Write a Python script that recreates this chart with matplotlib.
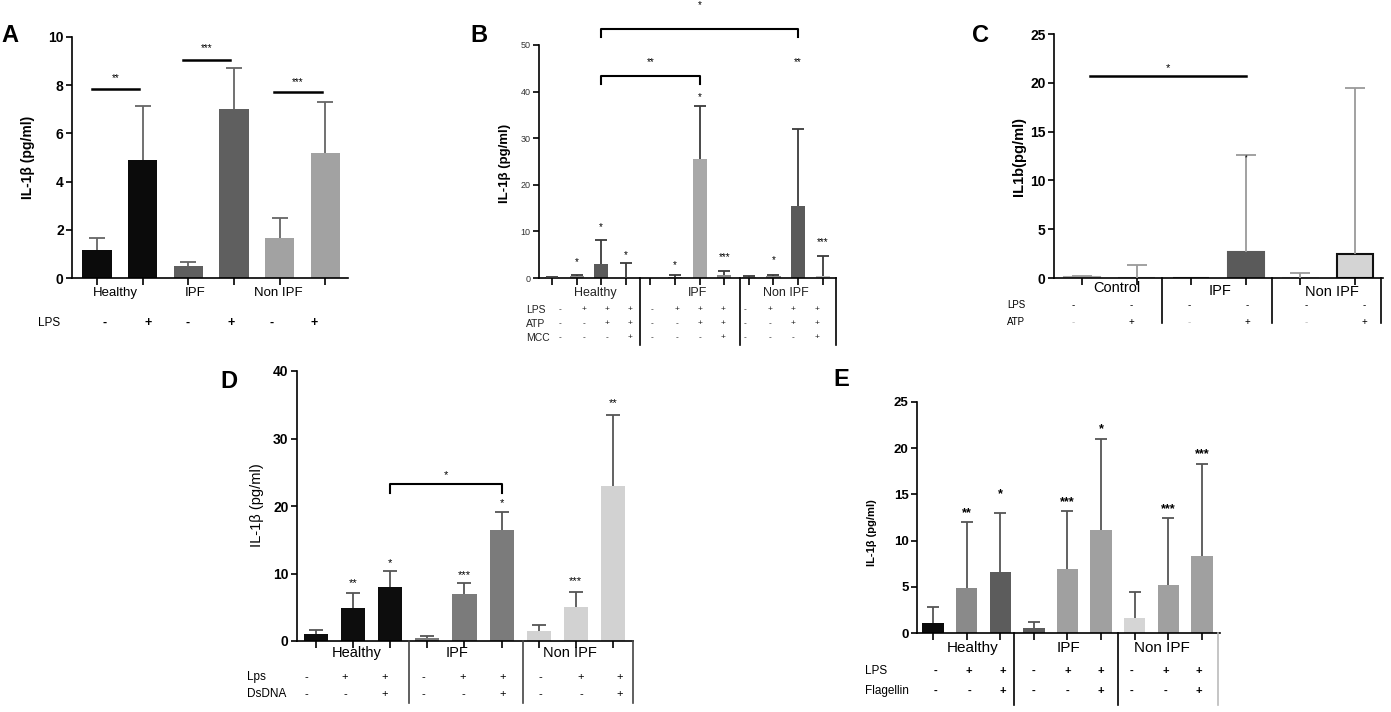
import numpy as np
import matplotlib
matplotlib.use('Agg')
import matplotlib.pyplot as plt
from matplotlib.lines import Line2D

W, H = 1391, 712
plt.rcParams['font.family'] = ['Liberation Sans', 'DejaVu Sans']

# ---- Panel A: LPS stimulation
a_groups = ['Healthy', 'IPF', 'Non IPF']
a_lps = ['-', '+', '-', '+', '-', '+']
a_mean = [1.15, 4.9, 0.48, 7.0, 1.65, 5.2]
a_top = [1.65, 7.15, 0.68, 8.7, 2.47, 7.32]
a_sig = ['**', '***', '***']
a_sig_y = [7.85, 9.05, 7.7]
a_star_y = [8.3, 9.55, 8.15]

# ---- Panel B: LPS / ATP / MCC
b_groups = ['Healthy', 'IPF', 'Non IPF']
b_rows = ['LPS', 'ATP', 'MCC']
b_lps = ['-', '+', '+', '+', '-', '+', '+', '+', '-', '+', '+', '+']
b_atp = ['-', '-', '+', '+', '-', '-', '+', '+', '-', '-', '+', '+']
b_mcc = ['-', '-', '-', '+', '-', '-', '-', '+', '-', '-', '-', '+']
b_mean = [0.15, 0.4, 2.9, 0.0, 0.0, 0.3, 25.5, 0.7, 0.3, 0.4, 15.4, 0.4]
b_top = [0.25, 0.55, 8.1, 3.3, 0.0, 0.7, 37.0, 1.4, 0.45, 0.55, 32.0, 4.7]
b_star = ['', '*', '*', '*', '', '*', '*', '***', '', '*', '**', '***']
b_star_y = [0, 3.4, 11.0, 4.9, 0, 2.8, 38.9, 4.5, 0, 3.9, 46.4, 7.8]

# ---- Panel C: LPS / ATP
c_groups = ['Control', 'IPF', 'Non IPF']
c_rows = ['LPS', 'ATP']
c_lps = ['-', '-', '-', '-', '-', '-']
c_atp = ['-', '+', '-', '+', '-', '+']
c_mean = [0.1, 0.0, 0.0, 2.7, 0.0, 2.45]
c_top = [0.25, 1.3, 0.0, 12.6, 0.55, 19.5]

# ---- Panel D: Lps / DsDNA
d_groups = ['Healthy', 'IPF', 'Non IPF']
d_rows = ['Lps', 'DsDNA']
d_lps = ['-', '+', '+', '-', '+', '+', '-', '+', '+']
d_dna = ['-', '-', '+', '-', '-', '+', '-', '-', '+']
d_mean = [1.0, 4.9, 8.0, 0.4, 7.0, 16.4, 1.5, 5.0, 23.0]
d_top = [1.6, 7.1, 10.4, 0.7, 8.6, 19.1, 2.4, 7.3, 33.5]
d_star = ['', '**', '*', '', '***', '*', '', '***', '**']
d_star_y = [0, 8.6, 11.6, 0, 9.8, 20.4, 0, 8.9, 35.3]

# ---- Panel E: LPS / Flagellin
e_groups = ['Healthy', 'IPF', 'Non IPF']
e_rows = ['LPS', 'Flagellin']
e_lps = ['-', '+', '+', '-', '+', '+', '-', '+', '+']
e_flag = ['-', '-', '+', '-', '-', '+', '-', '-', '+']
e_mean = [1.1, 4.9, 6.6, 0.5, 6.9, 11.1, 1.6, 5.2, 8.3]
e_top = [2.8, 12.0, 13.0, 1.2, 13.2, 21.0, 4.4, 12.5, 18.3]
e_star = ['', '**', '*', '', '***', '*', '', '***', '***']
e_star_y = [0, 13.0, 15.0, 0, 14.2, 22.1, 0, 13.4, 19.3]

fig = plt.figure(figsize=(W / 100, H / 100), dpi=100)


def panel(left, top, right, bottom):
    return fig.add_axes([left / W, 1 - bottom / H, (right - left) / W, (bottom - top) / H])


def ftext(px, py, s, **kw):
    fig.text(px / W, 1 - py / H, s, **kw)


def ylab(px, py, s, **kw):
    ftext(px, py, s, rotation=90, ha='center', va='center', **kw)


def vline(px, py0, py1, color='k', lw=1.2):
    fig.add_artist(Line2D([px / W, px / W], [1 - py0 / H, 1 - py1 / H], color=color, lw=lw))


def style(ax, ymax, yticks, xlim, size=9, bold=True, color='k'):
    for s in ['top', 'right']:
        ax.spines[s].set_visible(False)
    for s in ['left', 'bottom']:
        ax.spines[s].set_linewidth(1.2)
    ax.set_ylim(0, ymax)
    ax.set_xlim(*xlim)
    ax.set_yticks(yticks)
    ax.tick_params(axis='y', length=4, width=1.2, labelsize=size, pad=2, labelcolor=color)
    ax.tick_params(axis='x', length=5, width=1.2, labelbottom=False)
    for lab in ax.get_yticklabels():
        lab.set_fontweight('bold' if bold else 'normal')


def bars(ax, mean, top, colors, width, ecolor, capsize, edges=None, lw=0):
    mean = np.asarray(mean)
    top = np.asarray(top)
    x = np.arange(len(mean))
    ax.bar(x, mean, width, color=colors, edgecolor=edges if edges else colors, linewidth=lw, zorder=2)
    has = top > mean
    eb = ax.errorbar(x[has], mean[has], yerr=[np.zeros(has.sum()), (top - mean)[has]], fmt='none',
                     ecolor=ecolor, elinewidth=1.3, capsize=capsize, capthick=1.3, zorder=3)
    # only the upper cap, as in the original
    eb[1][0].set_visible(False)
    ax.set_xticks(x)
    return x


def stars(ax, labels, ys, fs=9, weight='normal'):
    for i, (s, y) in enumerate(zip(labels, ys)):
        if s:
            ax.text(i, y, s, ha='center', va='center', fontsize=fs, fontweight=weight, clip_on=False)


def bracket(ax, x1, x2, y, drop, text, ty, fs=9):
    ax.plot([x1, x1, x2, x2], [y - drop, y, y, y - drop], color='k', lw=1.5, clip_on=False)
    ax.text((x1 + x2) / 2, ty, text, ha='center', va='center', fontsize=fs, clip_on=False)


# ================= A =================
axA = panel(72, 37, 348, 278)
style(axA, 10, [0, 2, 4, 6, 8, 10], (-0.55, 5.5), size=10)
bars(axA, a_mean, a_top, ['#0b0b0b'] * 2 + ['#5f5f5f'] * 2 + ['#a2a2a2'] * 2, 0.64, '#666666', 5.5)
for g in range(3):
    x0 = 2 * g
    axA.plot([x0 - 0.12, x0 + 0.92], [a_sig_y[g]] * 2, color='k', lw=1.8)
    axA.text(x0 + 0.4, a_star_y[g], a_sig[g], ha='center', va='center', fontsize=7)
ylab(28, 157, 'IL-1β (pg/ml)', fontsize=10, fontweight='bold')
for s, px in zip(a_groups, [115, 195, 278]):
    ftext(px, 293, s, ha='center', va='center', fontsize=9.5)
ftext(38, 323, 'LPS', ha='left', va='center', fontsize=8.5)
for s, px in zip(a_lps, [105, 148, 188, 231, 272, 314]):
    ftext(px, 323, s, ha='center', va='center', fontsize=9, fontweight='bold')
ftext(10, 36, 'A', ha='center', va='center', fontsize=17, fontweight='bold')

# ================= B =================
axB = panel(539, 45, 836, 278)
style(axB, 50, [0, 10, 20, 30, 40, 50], (-0.53, 11.54), size=6.5, bold=False, color='#333333')
b_cols = ['#b5b5b5', '#909090', '#5a5a5a', '#b5b5b5',
          '#b5b5b5', '#909090', '#a8a8a8', '#8a8a8a',
          '#b5b5b5', '#909090', '#5a5a5a', '#c0c0c0']
bars(axB, b_mean, b_top, b_cols, 0.58, '#3a3a3a', 4)
stars(axB, b_star, b_star_y, fs=7)
bracket(axB, 2, 6, 43.3, 1.6, '**', 46.4, fs=7)
bracket(axB, 2, 10, 53.4, 1.6, '*', 58.6, fs=7)
ylab(505, 163, 'IL-1β (pg/ml)', fontsize=9.5, fontweight='bold')
for s, px in zip(b_groups, [595, 698, 786]):
    ftext(px, 293, s, ha='center', va='center', fontsize=9, color='#222222')
for row, vals, py in zip(b_rows, [b_lps, b_atp, b_mcc], [310, 324, 338]):
    ftext(526, py, row, ha='left', va='center', fontsize=7.5, color='#222222')
    for s, px in zip(vals, [560, 584, 607, 630, 652, 677, 700, 723, 745, 770, 793, 817]):
        ftext(px, py, s, ha='center', va='center', fontsize=6, color='#222222')
for px in [640, 740, 836]:
    vline(px, 278, 345)
ftext(479, 35, 'B', ha='center', va='center', fontsize=17, fontweight='bold')

# ================= C =================
axC = panel(1054, 34, 1383, 278)
style(axC, 25, [0, 5, 10, 15, 20, 25], (-0.51, 5.51), size=10)
c_cols = ['#aaaaaa', '#aaaaaa', '#5a5a5a', '#5a5a5a', '#d4d4d4', '#d4d4d4']
c_edge = ['#aaaaaa', '#aaaaaa', '#5a5a5a', '#5a5a5a', '#d4d4d4', '#111111']
bars(axC, c_mean, c_top, c_cols, 0.66, '#9a9a9a', 7, edges=c_edge, lw=1.5)
axC.plot([0.15, 3.0], [20.7, 20.7], color='k', lw=1.8)
axC.text(1.57, 21.5, '*', ha='center', va='center', fontsize=8)
axC.text(3, 12.3, '*', ha='center', va='center', fontsize=5)
ylab(1019, 157, 'IL1b(pg/ml)', fontsize=10.5, fontweight='bold')
for s, px, py in zip(c_groups, [1117, 1220, 1332], [288, 291, 292]):
    ftext(px, py, s, ha='center', va='center', fontsize=10.5)
for row, vals, py in zip(c_rows, [c_lps, c_atp], [305, 322]):
    ftext(1007, py, row, ha='left', va='center', fontsize=7)
    for s, px in zip(vals, [1073, 1131, 1189, 1247, 1306, 1364]):
        col = '#bbbbbb' if (py == 322 and s == '-') else 'k'
        ftext(px, py, s, ha='center', va='center', fontsize=7, color=col)
for px in [1162, 1272, 1381]:
    vline(px, 278, 323)
ftext(980, 35, 'C', ha='center', va='center', fontsize=17, fontweight='bold')

# ================= D =================
axD = panel(297, 371, 633, 641)
style(axD, 40, [0, 10, 20, 30, 40], (-0.51, 8.54), size=10)
d_cols = ['#0d0d0d'] * 3 + ['#7b7b7b'] * 3 + ['#d2d2d2'] * 3
bars(axD, d_mean, d_top, d_cols, 0.65, '#555555', 5)
stars(axD, d_star, d_star_y, fs=8)
bracket(axD, 2, 5, 23.3, 1.3, '*', 24.6, fs=8)
ylab(257, 505, 'IL-1β (pg/ml)', fontsize=10.5)
for s, px in zip(d_groups, [357, 457, 570]):
    ftext(px, 653, s, ha='center', va='center', fontsize=10.5)
for row, vals, py in zip(d_rows, [d_lps, d_dna], [677, 694]):
    ftext(247, py, row, ha='left', va='center', fontsize=8.5)
    for s, px in zip(vals, [306, 345, 385, 423, 463, 503, 540, 581, 620]):
        ftext(px, py, s, ha='center', va='center', fontsize=8)
for px in [409, 523, 633]:
    vline(px, 641, 703, color='#444444')
ftext(229, 381, 'D', ha='center', va='center', fontsize=17, fontweight='bold')

# ================= E =================
axE = panel(917, 402, 1220, 633)
style(axE, 25, [0, 5, 10, 15, 20, 25], (-0.48, 8.54), size=9.5)
e_cols = ['#0b0b0b', '#8a8a8a', '#5c5c5c', '#5c5c5c', '#a0a0a0', '#a0a0a0',
          '#d5d5d5', '#a0a0a0', '#a0a0a0']
bars(axE, e_mean, e_top, e_cols, 0.64, '#555555', 4.5)
stars(axE, e_star, e_star_y, fs=9, weight='bold')
ylab(872, 533, 'IL-1β (pg/ml)', fontsize=8, fontweight='bold')
for s, px in zip(e_groups, [973, 1068, 1162]):
    ftext(px, 648, s, ha='center', va='center', fontsize=11)
for row, vals, py in zip(e_rows, [e_lps, e_flag], [671, 691]):
    ftext(865, py, row, ha='left', va='center', fontsize=8.5)
    for s, px in zip(vals, [936, 969, 1003, 1034, 1068, 1101, 1132, 1166, 1199]):
        ftext(px, py, s, ha='center', va='center', fontsize=8, fontweight='bold')
for px, col in zip([1014, 1118, 1218], ['k', 'k', '#bbbbbb']):
    vline(px, 633, 705, color=col)
ftext(841, 380, 'E', ha='center', va='center', fontsize=17, fontweight='bold')

fig.savefig('out.png', dpi=100)
